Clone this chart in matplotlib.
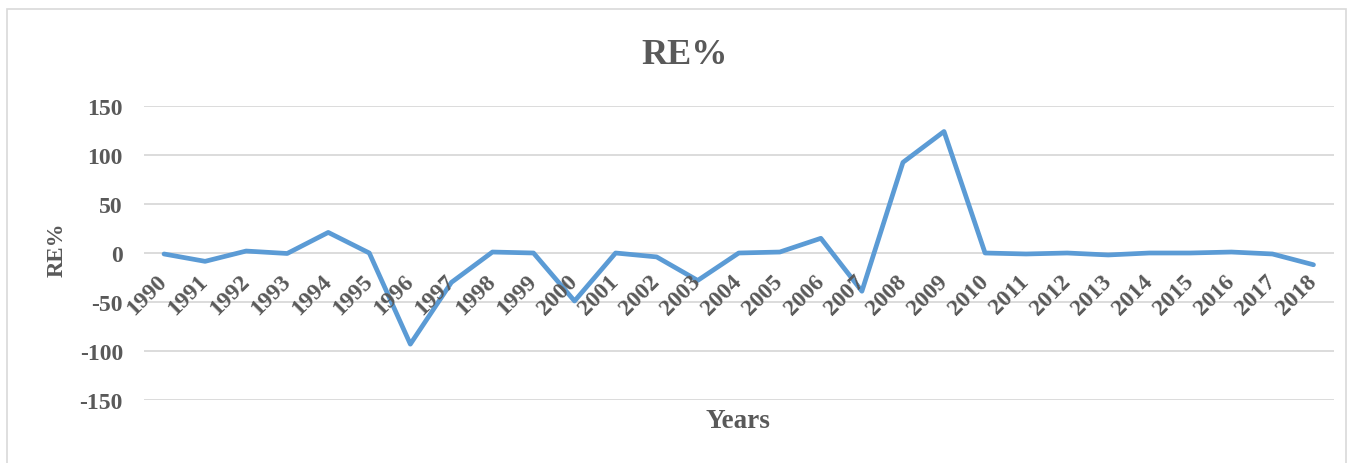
import numpy as np
import matplotlib.pyplot as plt
import matplotlib.patches as mpatches

# data
years = [str(y) for y in range(1990, 2019)]
re_pct = [-1, -8.5, 2, -0.5, 21, 0, -93, -30, 1, 0,
          -49, 0, -4, -28, 0, 1, 15, -39, 92.5, 124,
          0, -1, 0, -2, 0, 0, 1, -1, -12]
yticks = [-150, -100, -50, 0, 50, 100, 150]

txt = '#595959'
grid = '#D9D9D9'
serif = ['Liberation Serif', 'DejaVu Serif']

fig = plt.figure(figsize=(13.51, 4.64), dpi=100)
ax = fig.add_axes([143.5/1351, 1-401/464, (1334-143.5)/1351, (401-107)/464])

x = np.arange(len(years))
ax.plot(x, re_pct, color='#5B9BD5', lw=3.4, solid_joinstyle='round', solid_capstyle='round', zorder=3)

ax.set_xlim(-0.5, len(years)-0.5)
ax.set_ylim(-150, 150)
ax.set_yticks(yticks)
ax.set_yticklabels([str(v) for v in yticks], family=serif, fontsize=17, fontweight='bold', color=txt)
for v in yticks:
    ax.axhline(v, color=grid, lw=1.3, zorder=1)

for s in ax.spines.values():
    s.set_visible(False)
ax.set_xticks([])
ax.tick_params(axis='both', length=0)
ax.tick_params(axis='y', pad=14.8)

# category labels sit under the zero line
for i, lab in enumerate(years):
    ax.annotate(lab, xy=(i, 0), xytext=(0, -25), textcoords='offset pixels',
                rotation=45, rotation_mode='anchor', ha='right', va='center',
                family=serif, fontsize=17, fontweight='bold', color=txt)

fig.text(685/1351, 1-55/464, 'RE%', ha='center', va='center', family=serif,
         fontsize=26, fontweight='bold', color=txt)
fig.text(57/1351, 1-250/464, 'RE%', ha='center', va='center', rotation=90, family=serif,
         fontsize=16.5, fontweight='bold', color=txt)
fig.text(738/1351, 1-422/464, 'Years', ha='center', va='center', family=serif,
         fontsize=19.5, fontweight='bold', color=txt)

fig.patches.append(mpatches.Rectangle((7/1351, -0.05), 1339/1351, 1.05-10/464,
                                      transform=fig.transFigure, fill=False,
                                      edgecolor=grid, lw=1.2))

fig.savefig('out.png', dpi=100)
